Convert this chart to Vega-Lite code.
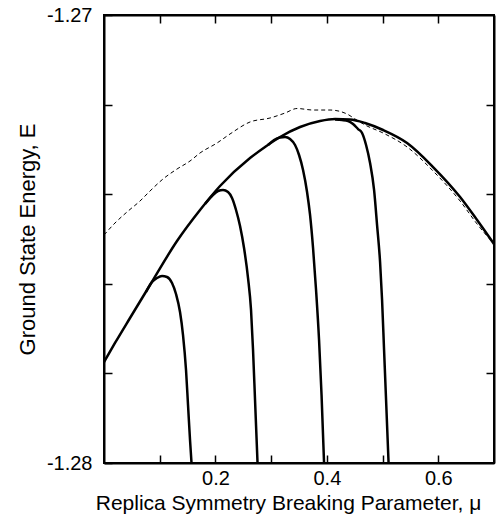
{
  "$schema": "https://vega.github.io/schema/vega-lite/v6.json",
  "autosize": "none",
  "width": 390,
  "height": 448,
  "padding": {"left": 104, "top": 15, "right": 2, "bottom": 57},
  "background": "white",
  "config": {
    "view": {"stroke": "black", "strokeWidth": 2},
    "font": "Liberation Sans",
    "axis": {
      "domainColor": "black", "domainWidth": 2,
      "tickColor": "black", "tickWidth": 1.5, "tickSize": -8,
      "labelColor": "black", "labelFont": "Liberation Sans", "labelFontSize": 20,
      "titleColor": "black", "titleFont": "Liberation Sans", "titleFontSize": 21, "titleFontWeight": "normal",
      "grid": false
    }
  },
  "datasets": {
    "curves": [
      {"mu": 0.0, "E": -1.277746, "curve": "env"},
      {"mu": 0.01975, "E": -1.277321, "curve": "env"},
      {"mu": 0.04668, "E": -1.276763, "curve": "env"},
      {"mu": 0.08259, "E": -1.276027, "curve": "env"},
      {"mu": 0.13106, "E": -1.275045, "curve": "env"},
      {"mu": 0.17235, "E": -1.274353, "curve": "env"},
      {"mu": 0.20826, "E": -1.273817, "curve": "env"},
      {"mu": 0.26212, "E": -1.273192, "curve": "env"},
      {"mu": 0.28905, "E": -1.272946, "curve": "env"},
      {"mu": 0.31598, "E": -1.272723, "curve": "env"},
      {"mu": 0.35189, "E": -1.2725, "curve": "env"},
      {"mu": 0.38779, "E": -1.272366, "curve": "env"},
      {"mu": 0.41472, "E": -1.272321, "curve": "env"},
      {"mu": 0.44165, "E": -1.272333, "curve": "env"},
      {"mu": 0.46858, "E": -1.272411, "curve": "env"},
      {"mu": 0.5009, "E": -1.272567, "curve": "env"},
      {"mu": 0.54399, "E": -1.272857, "curve": "env"},
      {"mu": 0.59066, "E": -1.273393, "curve": "env"},
      {"mu": 0.63914, "E": -1.274063, "curve": "env"},
      {"mu": 0.66966, "E": -1.274576, "curve": "env"},
      {"mu": 0.7, "E": -1.275112, "curve": "env"},

      {"mu": 0.0754, "E": -1.276183, "curve": "b1"},
      {"mu": 0.08618, "E": -1.27596, "curve": "b1"},
      {"mu": 0.09515, "E": -1.275871, "curve": "b1"},
      {"mu": 0.10413, "E": -1.275826, "curve": "b1"},
      {"mu": 0.11311, "E": -1.275848, "curve": "b1"},
      {"mu": 0.12208, "E": -1.275982, "curve": "b1"},
      {"mu": 0.12926, "E": -1.276228, "curve": "b1"},
      {"mu": 0.13645, "E": -1.27663, "curve": "b1"},
      {"mu": 0.14183, "E": -1.277143, "curve": "b1"},
      {"mu": 0.14722, "E": -1.277924, "curve": "b1"},
      {"mu": 0.15081, "E": -1.278705, "curve": "b1"},
      {"mu": 0.1544, "E": -1.279487, "curve": "b1"},
      {"mu": 0.15709, "E": -1.28, "curve": "b1"},

      {"mu": 0.18133, "E": -1.274219, "curve": "b2"},
      {"mu": 0.1939, "E": -1.27404, "curve": "b2"},
      {"mu": 0.20467, "E": -1.273929, "curve": "b2"},
      {"mu": 0.21364, "E": -1.273906, "curve": "b2"},
      {"mu": 0.22262, "E": -1.273951, "curve": "b2"},
      {"mu": 0.2298, "E": -1.274085, "curve": "b2"},
      {"mu": 0.23698, "E": -1.274353, "curve": "b2"},
      {"mu": 0.24417, "E": -1.27471, "curve": "b2"},
      {"mu": 0.25135, "E": -1.275201, "curve": "b2"},
      {"mu": 0.25853, "E": -1.275871, "curve": "b2"},
      {"mu": 0.26391, "E": -1.276585, "curve": "b2"},
      {"mu": 0.2675, "E": -1.277478, "curve": "b2"},
      {"mu": 0.27109, "E": -1.278594, "curve": "b2"},
      {"mu": 0.27558, "E": -1.28, "curve": "b2"},

      {"mu": 0.29443, "E": -1.272902, "curve": "b3"},
      {"mu": 0.30521, "E": -1.27279, "curve": "b3"},
      {"mu": 0.31598, "E": -1.272734, "curve": "b3"},
      {"mu": 0.32496, "E": -1.272723, "curve": "b3"},
      {"mu": 0.33393, "E": -1.272768, "curve": "b3"},
      {"mu": 0.34291, "E": -1.272902, "curve": "b3"},
      {"mu": 0.35009, "E": -1.273125, "curve": "b3"},
      {"mu": 0.35727, "E": -1.27346, "curve": "b3"},
      {"mu": 0.36445, "E": -1.273951, "curve": "b3"},
      {"mu": 0.36984, "E": -1.274464, "curve": "b3"},
      {"mu": 0.37522, "E": -1.275201, "curve": "b3"},
      {"mu": 0.38061, "E": -1.276138, "curve": "b3"},
      {"mu": 0.386, "E": -1.277254, "curve": "b3"},
      {"mu": 0.39048, "E": -1.278482, "curve": "b3"},
      {"mu": 0.39497, "E": -1.28, "curve": "b3"},

      {"mu": 0.41472, "E": -1.272333, "curve": "b4"},
      {"mu": 0.42729, "E": -1.272344, "curve": "b4"},
      {"mu": 0.43806, "E": -1.272366, "curve": "b4"},
      {"mu": 0.44704, "E": -1.272433, "curve": "b4"},
      {"mu": 0.45601, "E": -1.272545, "curve": "b4"},
      {"mu": 0.4632, "E": -1.272634, "curve": "b4"},
      {"mu": 0.47038, "E": -1.272902, "curve": "b4"},
      {"mu": 0.47756, "E": -1.273304, "curve": "b4"},
      {"mu": 0.48474, "E": -1.273906, "curve": "b4"},
      {"mu": 0.49013, "E": -1.274688, "curve": "b4"},
      {"mu": 0.49551, "E": -1.275513, "curve": "b4"},
      {"mu": 0.4991, "E": -1.276362, "curve": "b4"},
      {"mu": 0.50269, "E": -1.277478, "curve": "b4"},
      {"mu": 0.50628, "E": -1.278594, "curve": "b4"},
      {"mu": 0.51077, "E": -1.28, "curve": "b4"}
    ],
    "dashed": [
      {"mu": 0.0, "E": -1.274911},
      {"mu": 0.01975, "E": -1.274643},
      {"mu": 0.04129, "E": -1.274397},
      {"mu": 0.06463, "E": -1.274152},
      {"mu": 0.08259, "E": -1.273929},
      {"mu": 0.10592, "E": -1.273661},
      {"mu": 0.13106, "E": -1.273438},
      {"mu": 0.1544, "E": -1.273259},
      {"mu": 0.17235, "E": -1.27308},
      {"mu": 0.20287, "E": -1.272857},
      {"mu": 0.22621, "E": -1.272656},
      {"mu": 0.26212, "E": -1.272388},
      {"mu": 0.29803, "E": -1.272299},
      {"mu": 0.32496, "E": -1.272188},
      {"mu": 0.3465, "E": -1.272087},
      {"mu": 0.37522, "E": -1.272121},
      {"mu": 0.40575, "E": -1.272121},
      {"mu": 0.43627, "E": -1.27221},
      {"mu": 0.45063, "E": -1.272321},
      {"mu": 0.46858, "E": -1.272455},
      {"mu": 0.5009, "E": -1.272634},
      {"mu": 0.54399, "E": -1.272946},
      {"mu": 0.59066, "E": -1.273482},
      {"mu": 0.63914, "E": -1.274152},
      {"mu": 0.66966, "E": -1.274665},
      {"mu": 0.7, "E": -1.275112}
    ]
  },
  "layer": [
    {
      "data": {"name": "curves"},
      "mark": {"type": "line", "color": "black", "strokeWidth": 2.5, "interpolate": "monotone", "clip": true},
      "encoding": {
        "x": {
          "field": "mu", "type": "quantitative",
          "scale": {"domain": [0, 0.7], "nice": false, "zero": false},
          "axis": {
            "orient": "bottom",
            "values": [0.1, 0.2, 0.3, 0.4, 0.5, 0.6],
            "labelExpr": "abs(datum.value-0.2)<1e-6 ? '0.2' : abs(datum.value-0.4)<1e-6 ? '0.4' : abs(datum.value-0.6)<1e-6 ? '0.6' : ''",
            "labelPadding": 13,
            "title": "Replica Symmetry Breaking Parameter, μ",
            "titlePadding": 4,
            "titleX": 184,
            "titleAlign": "center",
            "titleAnchor": null
          }
        },
        "y": {
          "field": "E", "type": "quantitative",
          "scale": {"domain": [-1.28, -1.27], "nice": false, "zero": false},
          "axis": {
            "orient": "left",
            "values": [-1.28, -1.278, -1.276, -1.274, -1.272, -1.27],
            "labelExpr": "abs(datum.value + 1.27) < 1e-6 ? '-1.27' : abs(datum.value + 1.28) < 1e-6 ? '-1.28' : ''",
            "labelPadding": 20,
            "title": "Ground State Energy, E",
            "titleFontSize": 22,
            "titlePadding": 7
          }
        },
        "detail": {"field": "curve", "type": "nominal"}
      }
    },
    {
      "data": {"name": "dashed"},
      "mark": {"type": "line", "color": "black", "strokeWidth": 1, "strokeDash": [4, 3], "interpolate": "monotone", "clip": true},
      "encoding": {
        "x": {
          "field": "mu", "type": "quantitative",
          "axis": {"orient": "top", "values": [0.1, 0.2, 0.3, 0.4, 0.5, 0.6], "labels": false, "title": null}
        },
        "y": {
          "field": "E", "type": "quantitative",
          "axis": {"orient": "right", "values": [-1.278, -1.276, -1.274, -1.272], "labels": false, "title": null}
        }
      }
    }
  ]
}
